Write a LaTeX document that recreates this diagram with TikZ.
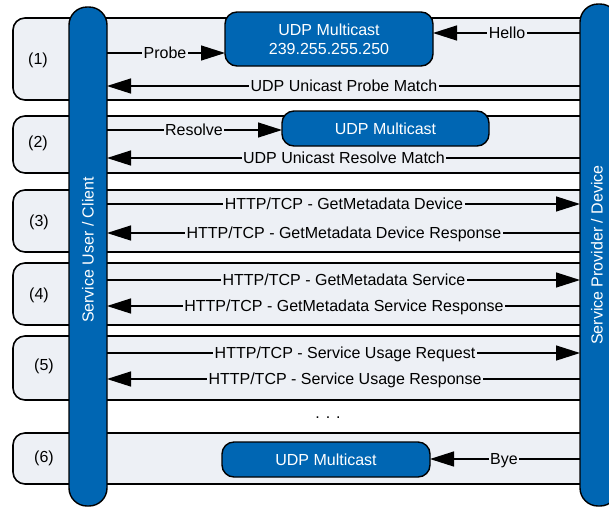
\documentclass[tikz,border=0pt]{standalone}
\usepackage{fontspec}
\setmainfont{Liberation Sans}
\usetikzlibrary{arrows.meta}
\definecolor{bblue}{RGB}{0,102,179}
\definecolor{gfill}{RGB}{237,240,245}
\begin{document}
\begin{tikzpicture}[x=1pt,y=-1pt,
  txt/.style={font=\fontsize{16}{19}\selectfont},
  grp/.style={draw=black,line width=1.6pt,fill=gfill,rounded corners=12pt},
  bar/.style={draw=black,line width=1.4pt,fill=bblue,rounded corners=18pt,minimum width=38pt,inner sep=0pt,outer sep=0pt},
  mc/.style={draw=black,line width=1.4pt,fill=bblue,rounded corners=12pt,text=white,txt,align=center,inner sep=0pt,outer sep=0pt},
  msg/.style={line width=1.3pt,-{Triangle[length=24pt,width=15pt]}},
  lbl/.style={fill=gfill,inner sep=1.5pt,txt,text height=11.5pt,text depth=0pt},
  num/.style={txt},
  bartxt/.style={txt,text=white,rotate=90}]
\useasboundingbox (0,0) rectangle (609,507);
% group boxes
\draw[grp] (13,18) rectangle (592,100);
\draw[grp] (13,116) rectangle (592,173);
\draw[grp] (13,190) rectangle (592,252);
\draw[grp] (13,263) rectangle (592,325);
\draw[grp] (13,336) rectangle (592,400);
\draw[grp] (13,433) rectangle (592,484);
\node[num] (n1) at (38,60) {(1)};
\node[num] (n2) at (38,143) {(2)};
\node[num] (n3) at (39,222) {(3)};
\node[num] (n4) at (39,295) {(4)};
\node[num] (n5) at (44,366) {(5)};
\node[num] (n6) at (44,458) {(6)};
% bars
\node[bar,minimum height=499pt] (cl) at (88,256.5) {};
\node[bartxt] (cltxt) at (88,250) {Service User / Client};
\node[bar,minimum height=502pt] (cr) at (599,255) {};
\node[bartxt] (crtxt) at (597,255) {Service Provider / Device};
% multicast boxes
\node[mc,minimum width=208pt,minimum height=54pt] (mc1) at (329,39) {UDP Multicast\\239.255.255.250};
\node[mc,minimum width=207pt,minimum height=35pt] (mc2) at (385.5,128.5) {UDP Multicast};
\node[mc,minimum width=208pt,minimum height=35pt] (mc3) at (326,459.5) {UDP Multicast};
% messages
\draw[msg] (cl.east |- 0,53) -- (mc1.west |- 0,53);
\node[lbl] (lprobe) at (165,53) {Probe};
\draw[msg] (cr.west |- 0,33) -- (mc1.east |- 0,33);
\node[lbl] (lhello) at (507,33) {Hello};
\draw[msg] (cr.west |- 0,86) -- (cl.east |- 0,86);
\node[lbl] (lpm) at (344,86) {UDP Unicast Probe Match};
\draw[msg] (cl.east |- 0,130) -- (mc2.west |- 0,130);
\node[lbl] (lres) at (194,130) {Resolve};
\draw[msg] (cr.west |- 0,158) -- (cl.east |- 0,158);
\node[lbl] (lrm) at (344,158) {UDP Unicast Resolve Match};
\draw[msg] (cl.east |- 0,204) -- (cr.west |- 0,204);
\node[lbl] (lgd) at (344,204) {HTTP/TCP - GetMetadata Device};
\draw[msg] (cr.west |- 0,233) -- (cl.east |- 0,233);
\node[lbl] (lgdr) at (344,233) {HTTP/TCP - GetMetadata Device Response};
\draw[msg] (cl.east |- 0,280) -- (cr.west |- 0,280);
\node[lbl] (lgs) at (344,280) {HTTP/TCP - GetMetadata Service};
\draw[msg] (cr.west |- 0,306) -- (cl.east |- 0,306);
\node[lbl] (lgsr) at (344,306) {HTTP/TCP - GetMetadata Service Response};
\draw[msg] (cl.east |- 0,353) -- (cr.west |- 0,353);
\node[lbl] (lsu) at (345,353) {HTTP/TCP - Service Usage Request};
\draw[msg] (cr.west |- 0,379) -- (cl.east |- 0,379);
\node[lbl] (lsur) at (345,379) {HTTP/TCP - Service Usage Response};
\draw[msg] (cr.west |- 0,459) -- (mc3.east |- 0,459);
\node[lbl] (lbye) at (504,459) {Bye};
\node[txt] (dots) at (328,418) {. . .};
\end{tikzpicture}
\end{document}
